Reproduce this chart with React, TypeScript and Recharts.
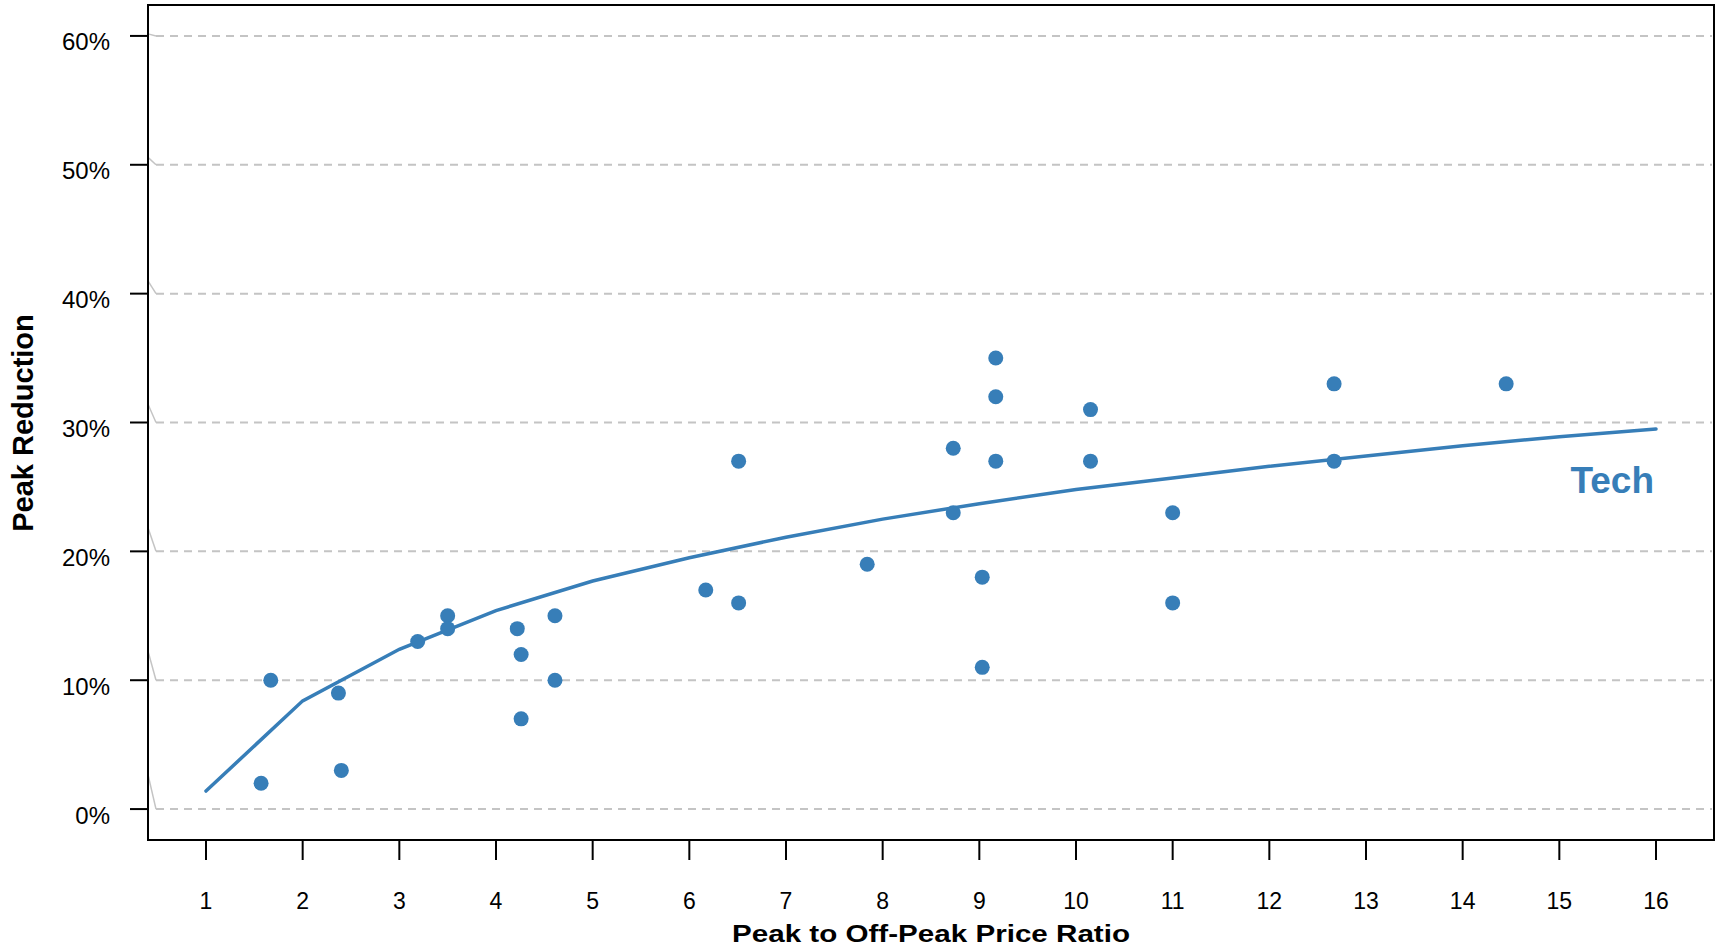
import {
  CartesianGrid,
  ComposedChart,
  LabelList,
  Line,
  ReferenceArea,
  Scatter,
  XAxis,
  YAxis,
} from "recharts";

// observed programmes: price ratio vs. peak reduction (%)
const priceRatio = [
  1.57, 1.67, 2.37, 2.4, 3.19, 3.5, 3.5, 4.22, 4.26, 4.26, 4.61, 4.61, 6.17,
  6.51, 6.51, 7.84, 8.73, 8.73, 9.03, 9.03, 9.17, 9.17, 9.17, 10.15, 10.15, 11.0,
  11.0, 12.67, 12.67, 14.45,
];
const peakReduction = [
  2, 10, 9, 3, 13, 15, 14, 14, 12, 7, 15, 10, 17, 16, 27, 19, 28, 23, 18, 11, 35,
  32, 27, 31, 27, 23, 16, 33, 27, 33,
];

// fitted "Tech" curve
const curveRatio = [1, 2, 3, 4, 5, 6, 7, 8, 9, 10, 11, 12, 13, 14, 15, 16];
const curveReduction = [
  1.4, 8.4, 12.4, 15.4, 17.7, 19.5, 21.1, 22.5, 23.7, 24.8, 25.7, 26.6, 27.4,
  28.2, 28.9, 29.5,
];
const curveName = "Tech";

const xTicks = [1, 2, 3, 4, 5, 6, 7, 8, 9, 10, 11, 12, 13, 14, 15, 16];
const yTicks = [0, 10, 20, 30, 40, 50, 60];
const xDomain: [number, number] = [0.4, 16.6];
const yDomain: [number, number] = [-2.4, 62.4];

const BLUE = "#377eb8";
const FONT = "'Liberation Sans', Arial, Helvetica, sans-serif";

const points = priceRatio.map((x, i) => ({ x, y: peakReduction[i] }));
const curve = curveRatio.map((x, i) => ({ x, y: curveReduction[i] }));

function YTick(props: any) {
  const { x, y, payload } = props;
  return (
    <text
      x={x}
      y={y + 6}
      dy="0.355em"
      textAnchor="end"
      fontSize={24}
      fontFamily={FONT}
      fill="#000"
    >
      {`${payload.value}%`}
    </text>
  );
}

function XTick(props: any) {
  const { x, y, payload } = props;
  return (
    <text
      x={x}
      y={y}
      dy="0.71em"
      textAnchor="middle"
      fontSize={23}
      fontFamily={FONT}
      fill="#000"
    >
      {payload.value}
    </text>
  );
}

function GridLine(props: any) {
  const { x1, x2, y1 } = props;
  // only the tick rows, not the frame edges
  if (y1 > 830 || y1 < 15) return <g key={`g-${y1}`} />;
  // little slanted stub at the left end, longer toward the bottom
  const len = 2 + (y1 - 35) * 0.042;
  return (
    <g key={`g-${y1}`}>
      <line x1={x1} y1={y1 - len} x2={x1 + 8} y2={y1} stroke="#c4c4c4" strokeWidth={1.5} />
      <line
        x1={x1 + 8}
        y1={y1}
        x2={x2 - 2}
        y2={y1}
        stroke="#c4c4c4"
        strokeWidth={2}
        strokeDasharray="8 6"
      />
    </g>
  );
}

function TechLabel(props: any) {
  const { x, y, index } = props;
  if (index !== curve.length - 1) return null;
  return (
    <text
      x={x - 2}
      y={y + 64}
      textAnchor="end"
      fontSize={37}
      fontWeight="bold"
      fontFamily={FONT}
      fill={BLUE}
    >
      {curveName}
    </text>
  );
}

export default function App() {
  return (
    <div style={{ position: "absolute", left: 0, top: 0, background: "#fff" }}>
      <ComposedChart
        width={1717}
        height={948}
        margin={{ top: 5, right: 3, bottom: 0, left: 0 }}
      >
        <CartesianGrid vertical={false} horizontal={GridLine} />
        <XAxis
          type="number"
          dataKey="x"
          domain={xDomain}
          ticks={xTicks}
          allowDataOverflow
          height={108}
          axisLine={false}
          tickSize={20}
          tickMargin={33}
          tickLine={{ stroke: "#000", strokeWidth: 2 }}
          tick={<XTick />}
          label={{
            content: () => (
              <text
                x={931}
                y={942}
                textAnchor="middle"
                fontSize={24}
                fontWeight="bold"
                fontFamily={FONT}
                fill="#000"
                textLength={398}
                lengthAdjust="spacingAndGlyphs"
              >
                Peak to Off-Peak Price Ratio
              </text>
            ),
          }}
        />
        <YAxis
          type="number"
          dataKey="y"
          domain={yDomain}
          ticks={yTicks}
          allowDataOverflow
          width={148}
          axisLine={false}
          tickSize={18}
          tickMargin={20}
          tickLine={{ stroke: "#000", strokeWidth: 2 }}
          tick={<YTick />}
          label={{
            content: () => (
              <text
                x={33}
                y={423}
                transform="rotate(-90 33 423)"
                textAnchor="middle"
                fontSize={29}
                fontWeight="bold"
                fontFamily={FONT}
                fill="#000"
              >
                Peak Reduction
              </text>
            ),
          }}
        />
        <ReferenceArea
          x1={xDomain[0]}
          x2={xDomain[1]}
          y1={yDomain[0]}
          y2={yDomain[1]}
          fill="none"
          stroke="#000"
          strokeWidth={2}
          ifOverflow="visible"
        />
        <Line
          data={curve}
          dataKey="y"
          type="linear"
          stroke={BLUE}
          strokeWidth={3.5}
          strokeLinecap="round"
          dot={false}
          activeDot={false}
          isAnimationActive={false}
        >
          <LabelList dataKey="y" content={<TechLabel />} />
        </Line>
        <Scatter
          data={points}
          dataKey="y"
          fill={BLUE}
          isAnimationActive={false}
          shape={(p: any) => <circle cx={p.cx} cy={p.cy} r={7.5} fill={BLUE} />}
        />
      </ComposedChart>
    </div>
  );
}
